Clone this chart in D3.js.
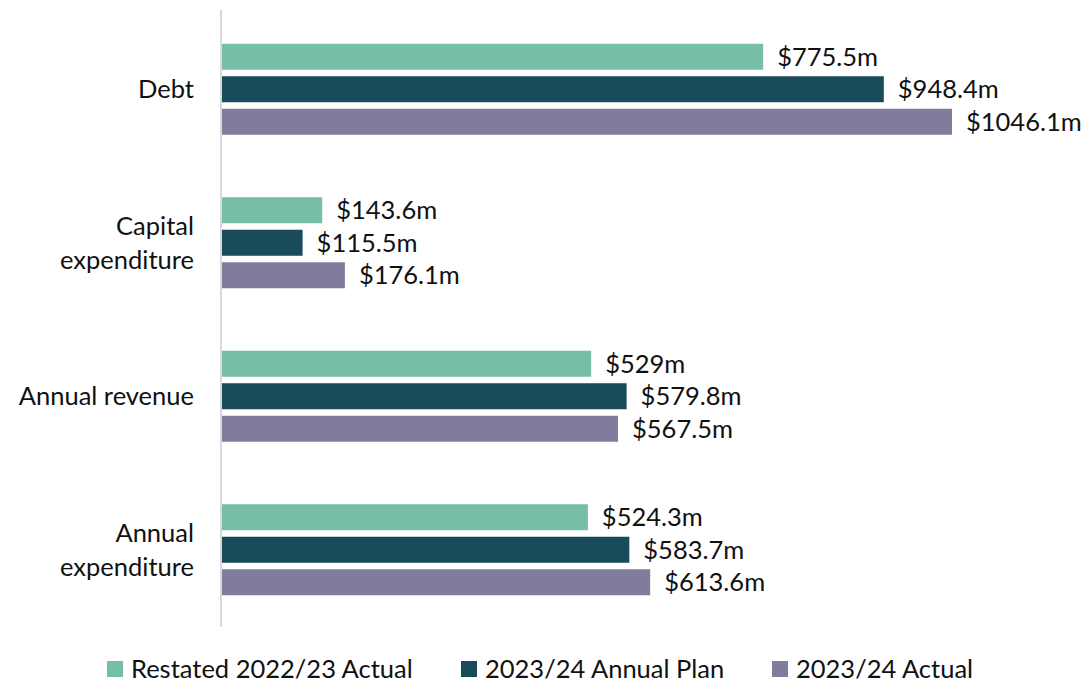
<!DOCTYPE html>
<html>
<head>
<meta charset="utf-8">
<script src="https://cdn.jsdelivr.net/npm/d3@7"></script>
<style>
  body { margin: 0; background: #fff; }
  svg text { font-family: "Source Sans Pro", Lato, "Noto Sans", sans-serif; fill: #111; }
</style>
</head>
<body>
<svg width="1085" height="684"></svg>
<script>
// The data
var categories = [["Debt"], ["Capital", "expenditure"], ["Annual revenue"], ["Annual", "expenditure"]];
var series = ["Restated 2022/23 Actual", "2023/24 Annual Plan", "2023/24 Actual"];
var colors = ["#76bea6", "#1a4b5a", "#807c9c"];
var restated = [775.5, 143.6, 529, 524.3];
var plan = [948.4, 115.5, 579.8, 583.7];
var actual = [1046.1, 176.1, 567.5, 613.6];
var labels = [
    ["$775.5m", "$143.6m", "$529m", "$524.3m"],
    ["$948.4m", "$115.5m", "$579.8m", "$583.7m"],
    ["$1046.1m", "$176.1m", "$567.5m", "$613.6m"]
];

var svg = d3.select("svg");
var values = [restated, plan, actual];
var fontSize = 25.5;

var x = d3.scaleLinear().domain([0, 1046.1]).range([222, 952]);
var y = d3.scaleBand().domain(d3.range(categories.length)).range([12.5, 626.5]);
var inner = d3.scaleBand().domain(d3.range(series.length)).range([-45.5, 45.5]).paddingInner(0.2);

// axis line
svg.append("line")
    .attr("x1", 221).attr("x2", 221)
    .attr("y1", 10).attr("y2", 627)
    .attr("stroke", "#d9d9d9")
    .attr("stroke-width", 2);

var groups = svg.selectAll("g.cat")
    .data(categories)
    .enter().append("g")
    .attr("class", "cat")
    .attr("transform", (d, i) => "translate(0," + (y(i) + y.bandwidth() / 2) + ")");

groups.each(function (cat, ci) {
    var g = d3.select(this);
    series.forEach(function (s, si) {
        var v = values[si][ci];
        g.append("rect")
            .attr("x", x(0))
            .attr("y", inner(si))
            .attr("width", x(v) - x(0))
            .attr("height", inner.bandwidth())
            .attr("fill", colors[si]);
        g.append("text")
            .attr("x", x(v) + 14)
            .attr("y", inner(si) + inner.bandwidth() / 2)
            .attr("dy", "0.35em")
            .attr("font-size", fontSize)
            .text(labels[si][ci]);
    });
    var t = g.append("text")
        .attr("text-anchor", "end")
        .attr("font-size", fontSize);
    cat.forEach(function (line, li) {
        t.append("tspan")
            .attr("x", 194)
            .attr("y", (li - (cat.length - 1) / 2) * 34)
            .attr("dy", "0.35em")
            .text(line);
    });
});

// legend
var legendX = [107, 461, 772];
var legend = svg.selectAll("g.legend")
    .data(series)
    .enter().append("g")
    .attr("class", "legend")
    .attr("transform", (d, i) => "translate(" + legendX[i] + ",669)");
legend.append("rect")
    .attr("x", 0).attr("y", -8)
    .attr("width", 16).attr("height", 16)
    .attr("fill", (d, i) => colors[i]);
legend.append("text")
    .attr("x", 24)
    .attr("dy", "0.35em")
    .attr("font-size", fontSize)
    .text(d => d);
</script>
</body>
</html>
